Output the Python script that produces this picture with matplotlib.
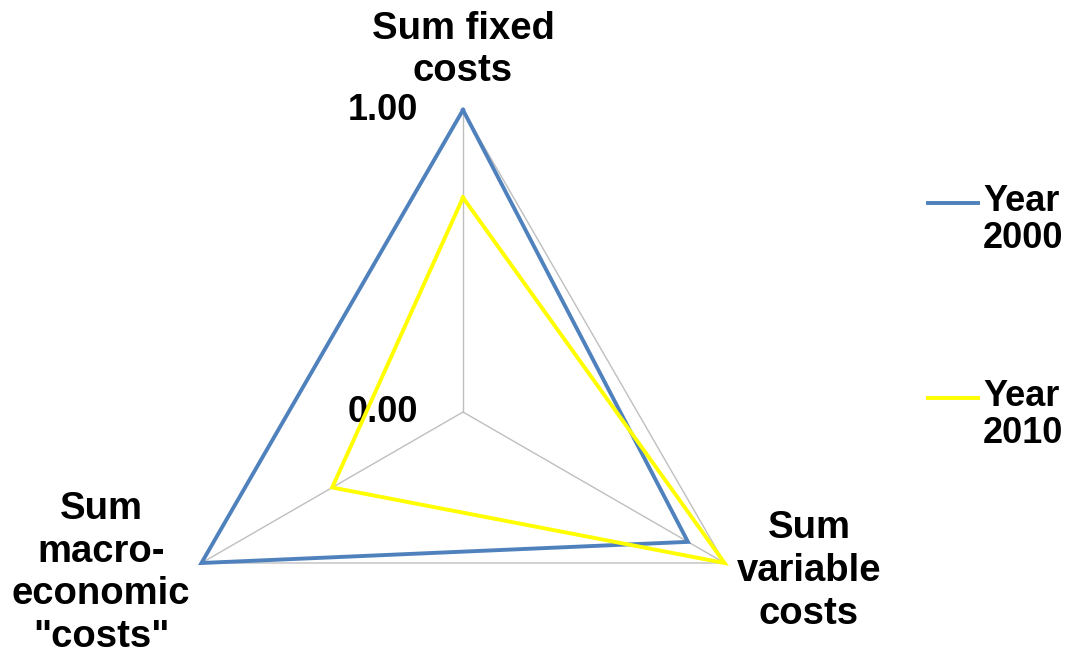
import numpy as np
import matplotlib
matplotlib.use('Agg')
import matplotlib.pyplot as plt

plt.rcParams['font.family'] = 'Liberation Sans'
plt.rcParams['font.weight'] = 'bold'

# ----------------------------------------------------------------
# Data (normalised 0..1)
# ----------------------------------------------------------------
categories = ['Sum fixed\ncosts', 'Sum\nvariable\ncosts', 'Sum\nmacro-\neconomic\n"costs"']
year_2000 = [1.00, 0.86, 1.00]
year_2010 = [0.71, 1.00, 0.50]
series_names = ['Year\n2000', 'Year\n2010']
tick_values = [0.0, 1.0]
tick_labels = ['0.00', '1.00']

blue = '#4F81BD'
yellow = '#FFFF00'
grid_col = '#BFBFBF'

W, H = 1073, 654
fig = plt.figure(figsize=(W / 100, H / 100), dpi=100)

# polar axes placed so the web centre sits at (463, 412) px, radius 302 px
cx, cy, R = 463, 412, 302
ax = fig.add_axes([(cx - R) / W, (H - cy - R) / H, 2 * R / W, 2 * R / H],
                  projection='polar')
ax.set_theta_offset(np.pi / 2)
ax.set_theta_direction(-1)
ax.set_ylim(0, 1)
ax.grid(False)
ax.spines['polar'].set_visible(False)
ax.set_xticks([])
ax.set_yticks([])
ax.patch.set_alpha(0)

n = len(categories)
angles = np.linspace(0, 2 * np.pi, n, endpoint=False)
closed = np.append(angles, angles[0])

# spokes and outer ring
for a in angles:
    ax.plot([a, a], [0, 1], color=grid_col, lw=1, clip_on=False, zorder=1)
ax.plot(closed, np.ones(n + 1), color=grid_col, lw=1, clip_on=False, zorder=1)

ax.plot(closed, year_2000 + year_2000[:1], color=blue, lw=2.8,
        clip_on=False, zorder=3, solid_joinstyle='miter')
ax.plot(closed, year_2010 + year_2010[:1], color=yellow, lw=2.8,
        clip_on=False, zorder=4, solid_joinstyle='miter')

fs = 27.5

# radial tick labels along the top spoke
for v, lab in zip(tick_values, tick_labels):
    ax.annotate(lab, xy=(0, v), xytext=(-32, 0), textcoords='offset points',
                ha='right', va='center', fontsize=26, fontweight='bold')

# category labels
fig.text(463 / W, 1 - 50 / H, categories[0], ha='center', va='center',
         fontsize=fs, linespacing=1.24)
fig.text(809 / W, 1 - 571 / H, categories[1], ha='center', va='center',
         fontsize=fs, linespacing=1.24)
fig.text(101 / W, 1 - 573 / H, categories[2], ha='center', va='center',
         fontsize=fs, linespacing=1.24)

# legend
for name, col, ly in zip(series_names, [blue, yellow], [203, 398]):
    fig.add_artist(plt.Line2D([928 / W, 978 / W], [1 - ly / H, 1 - ly / H],
                              color=col, lw=2.8))
    fig.text(983 / W, 1 - (ly + 17) / H, name, ha='left', va='center',
             fontsize=26, linespacing=1.07)

fig.savefig('out.png', dpi=100)
